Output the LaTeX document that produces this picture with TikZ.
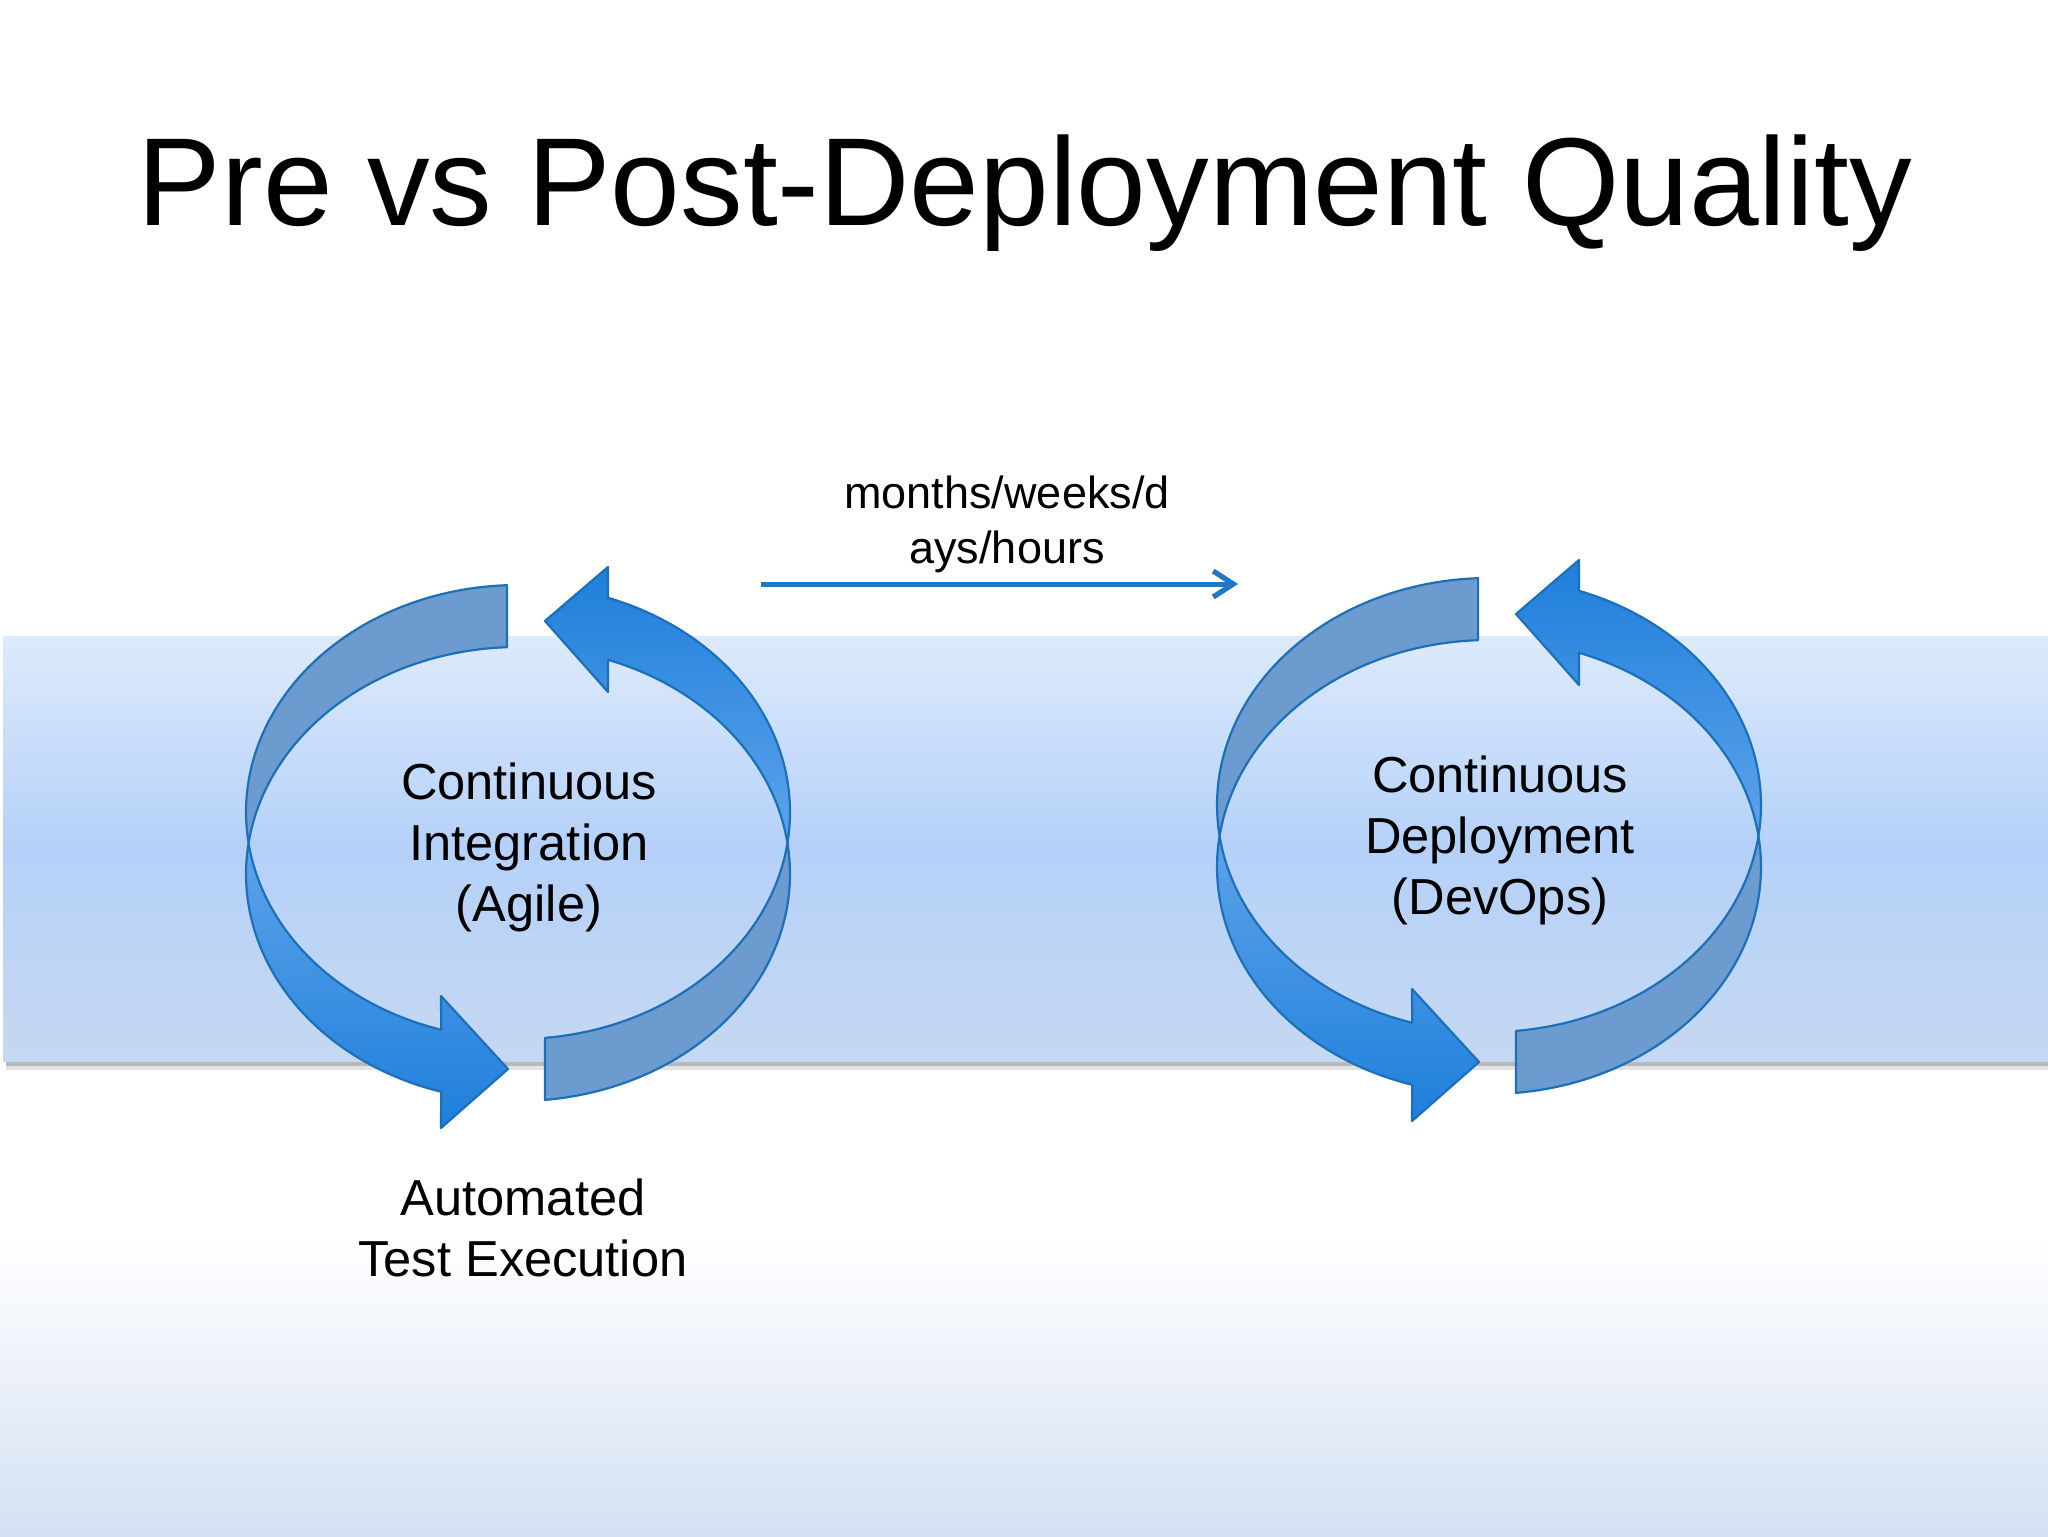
\documentclass[tikz,border=0pt]{standalone}
\usepackage{fontspec}
\setmainfont{Liberation Sans}
\usetikzlibrary{arrows.meta}
\definecolor{bandtop}{HTML}{DDEAFB}
\definecolor{bandmid}{HTML}{B5D1F9}
\definecolor{bandbot}{HTML}{C5D8F1}
\definecolor{floorblue}{HTML}{D4E0F3}
\definecolor{dullblue}{HTML}{6B9BCF}
\definecolor{brightlight}{HTML}{5EA3EA}
\definecolor{brightdark}{HTML}{1E7FDB}
\definecolor{edgeblue}{HTML}{1C70BA}
\definecolor{timeblue}{HTML}{1E78C3}
\tikzset{
  dullpart/.style={fill=dullblue, draw=edgeblue, line width=1.1pt, line join=round},
  brightdown/.style={top color=brightlight, bottom color=brightdark, draw=edgeblue, line width=1.1pt, line join=round},
  brightup/.style={top color=brightdark, bottom color=brightlight, draw=edgeblue, line width=1.1pt, line join=round},
  cyclelabel/.style={font=\fontsize{25.3}{30.5}\selectfont, align=center, inner sep=0pt},
  timearrow/.style={draw=timeblue, line width=2.5pt, -{Straight Barb[length=10pt,width=13pt,line width=2.6pt]}},
}
% U(t) = (272cos t, -31+227 sin t), L(t) = (272 cos t, 31+227 sin t), y downward
\newcommand\drawcyclepair{%
  % dull upper-left tail
  \path[dullpart] plot[domain=267.7:172.15,samples=70] ({272*cos(\x)},{-31+227*sin(\x)})
     -- plot[domain=187.85:267.7,samples=70] ({272*cos(\x)},{31+227*sin(\x)}) -- cycle;
  % dull lower-right tail
  \path[dullpart] plot[domain=7.85:84.3,samples=70] ({272*cos(\x)},{-31+227*sin(\x)})
     -- plot[domain=84.3:-7.85,samples=70] ({272*cos(\x)},{31+227*sin(\x)}) -- cycle;
  % bright lower-left arrow
  \path[brightdown] plot[domain=187.85:106.4,samples=70] ({272*cos(\x)},{31+227*sin(\x)})
     -- (-77,285) -- (-10,226) -- (-77,153)
     -- plot[domain=106.4:172.15,samples=70] ({272*cos(\x)},{-31+227*sin(\x)}) -- cycle;
  % bright upper-right arrow
  \path[brightup] plot[domain=7.85:-70.7,samples=70] ({272*cos(\x)},{-31+227*sin(\x)})
     -- (90,-276) -- (27,-222) -- (90,-151)
     -- plot[domain=-70.7:-7.85,samples=70] ({272*cos(\x)},{31+227*sin(\x)}) -- cycle;
}
\begin{document}
\begin{tikzpicture}[x=0.5pt,y=-0.5pt]
\useasboundingbox (0,0) rectangle (2048,1536);
% background
\fill[white] (0,0) rectangle (2048,1536);
\shade[top color=white, bottom color=floorblue] (0,1240) rectangle (2048,1536);
% band with shadow
\fill[gray!55] (6,1061) rectangle (2048,1066);
\fill[gray!22] (6,1066) rectangle (2048,1070);
\shade[top color=bandtop, bottom color=bandmid] (3,636) rectangle (2048,846);
\shade[top color=bandmid, bottom color=bandbot] (3,845) rectangle (2048,1061);
% title
\node[anchor=base, inner sep=0pt, font=\fontsize{62.6}{70}\selectfont] (title) at (1025,225) {Pre vs Post-Deployment Quality};
% cycles
\begin{scope}[shift={(518,843)}]
  \drawcyclepair
\end{scope}
\begin{scope}[shift={(1489,836)}]
  \drawcyclepair
\end{scope}
% labels
\node[cyclelabel] (ci) at (529,847) {Continuous\\Integration\\(Agile)};
\node[cyclelabel] (cd) at (1500,840) {Continuous\\Deployment\\(DevOps)};
\node[cyclelabel] (ate) at (523,1228) {Automated\\Test Execution};
% time arrow
\node[font=\fontsize{22.5}{27.5}\selectfont, align=center, inner sep=0pt] (timelabel) at (1007,524) {months/weeks/d\\ays/hours};
\coordinate (tstart) at (761,584);
\coordinate (tend) at (1238,584);
\draw[timearrow] (tstart) -- (tend);
\end{tikzpicture}
\end{document}
